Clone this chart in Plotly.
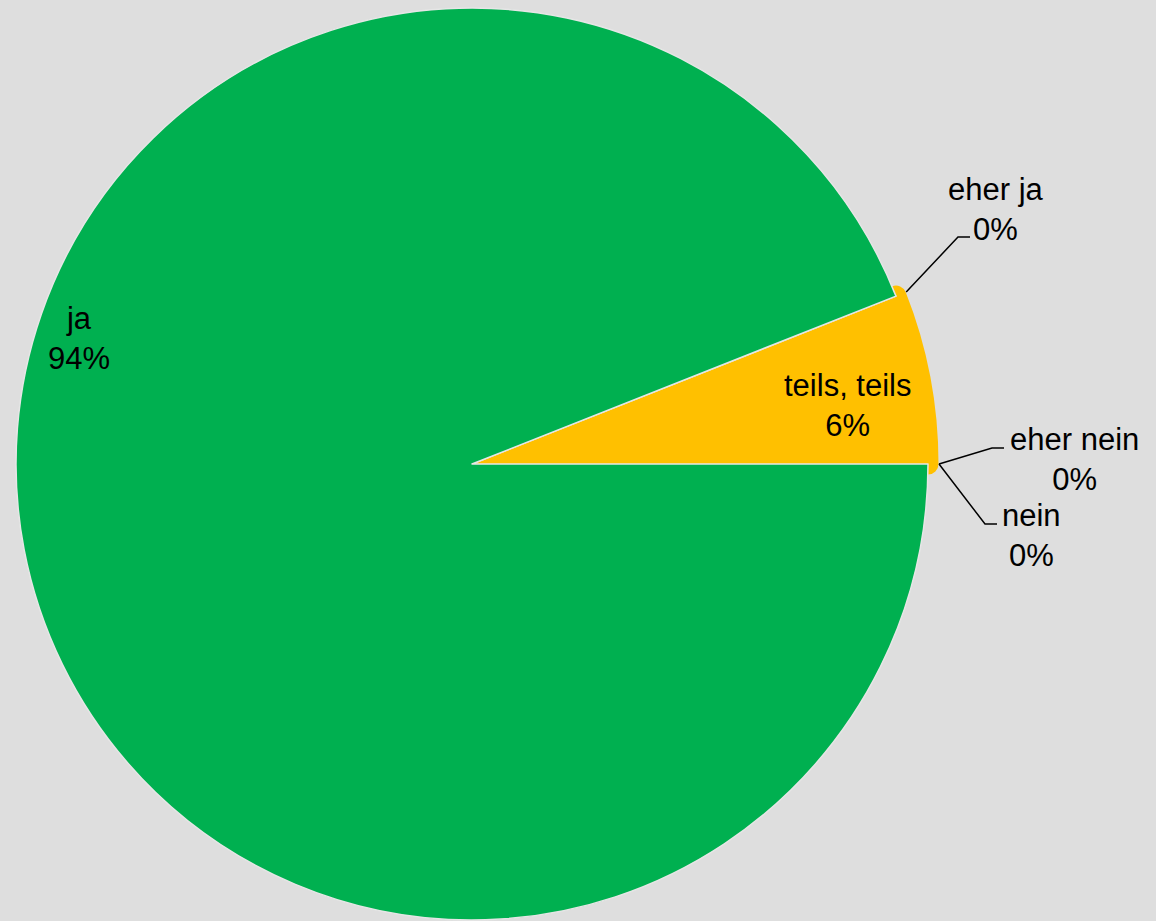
import plotly.graph_objects as go
import math

# ---------------- data ----------------
categories = ["ja", "eher ja", "teils, teils", "eher nein", "nein"]
values = [94, 0, 6, 0, 0]
colors = ["#00B050", "#92D050", "#FFC000", "#FF9900", "#FF0000"]

# ---------------- layout constants (pixels) ----------------
W, H = 1156, 921
CX, CY, R = 472, 464, 456
BG = "#DEDEDE"
FONT = dict(family="Arial, Liberation Sans, sans-serif", size=31, color="#000000")

# centre of each label text block
label_pos = {
    "ja": (79, 339),
    "teils, teils": (847, 405),
    "eher ja": (996, 209),
    "eher nein": (1074, 459),
    "nein": (1031, 535),
}
# elbow of leader lines for the small slices
leader_elbow = {
    "eher ja": (958, 237),
    "eher nein": (992, 448),
    "nein": (985, 524),
}
ELBOW_LEN = 12
LEADER_R = R + 11


def px(x):
    return x / W


def py(y):
    return 1 - y / H


total = sum(values)

# draw counter-clockwise from 3 o'clock so that "ja" is drawn last (on top)
order = list(reversed(range(len(categories))))
labels_o = [categories[i] for i in order]
values_o = [values[i] for i in order]
colors_o = [colors[i] for i in order]
line_col = ["#FFC000" if categories[i] == "teils, teils" else "#E6E6E6" for i in order]
line_w = [21 if categories[i] == "teils, teils" else 1.5 for i in order]

fig = go.Figure()
fig.add_trace(go.Pie(
    labels=labels_o,
    values=values_o,
    sort=False,
    direction="counterclockwise",
    rotation=90,
    marker=dict(colors=colors_o, line=dict(color=line_col, width=line_w)),
    textinfo="none",
    hoverinfo="label+percent",
    showlegend=False,
    domain=dict(x=[px(CX - R), px(CX + R)], y=[py(CY + R), py(CY - R)]),
))

annotations = []
shapes = []
# boundary angles (counter-clockwise from 3 o'clock) of each slice
cum = 0.0
angles = {}
for i in order:
    start = cum
    cum += values[i] / total * 360
    angles[categories[i]] = (start, cum)

for cat, v in zip(categories, values):
    pct = round(100 * v / total)
    x, y = label_pos[cat]
    annotations.append(dict(
        x=px(x), y=py(y), xref="paper", yref="paper",
        text=f"{cat}<br>{pct}%", showarrow=False,
        xanchor="center", yanchor="middle", align="center", font=FONT,
    ))
    if cat in leader_elbow:
        a = math.radians(sum(angles[cat]) / 2)
        sx = CX + LEADER_R * math.cos(a)
        sy = CY - LEADER_R * math.sin(a)
        ex, ey = leader_elbow[cat]
        path = (f"M {px(sx)},{py(sy)} L {px(ex)},{py(ey)} "
                f"L {px(ex + ELBOW_LEN)},{py(ey)}")
        shapes.append(dict(type="path", path=path, xref="paper", yref="paper",
                           line=dict(color="#000000", width=1.5)))

fig.update_layout(
    width=W, height=H,
    margin=dict(l=0, r=0, t=0, b=0),
    paper_bgcolor=BG, plot_bgcolor=BG,
    annotations=annotations, shapes=shapes,
)

fig.write_html(
    "out.html",
    config={"displayModeBar": False},
    post_script="document.body.style.margin='0';document.body.style.overflow='hidden';",
)
